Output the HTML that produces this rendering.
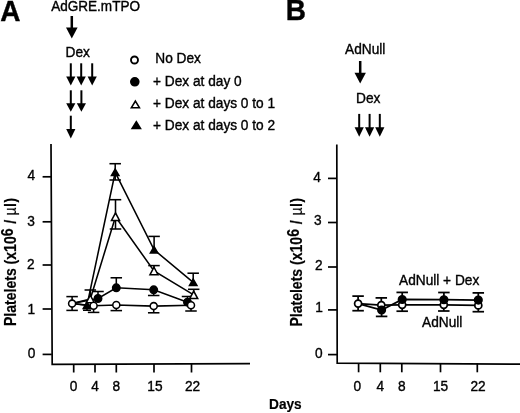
<!DOCTYPE html>
<html><head><meta charset="utf-8"><title>Figure</title>
<style>
html,body{margin:0;padding:0;background:#fff}
svg{display:block;will-change:transform;opacity:.999}
text{font-family:"Liberation Sans",Arial,Helvetica,sans-serif;fill:#000}
.b{font-weight:bold}
</style></head><body>
<svg width="520" height="413" viewBox="0 0 520 413">
<text class="b" transform="translate(0.3,20.9) scale(0.945,1)" font-size="29.6" stroke="#000" stroke-width="0.4">A</text>
<text class="b" transform="translate(285.8,20.1) scale(0.945,1)" font-size="29.6" stroke="#000" stroke-width="0.4">B</text>
<text transform="translate(51.2,11.0) scale(0.8929,1)" font-size="15.18" text-anchor="start" stroke="#000" stroke-width="0.4">AdGRE.mTPO</text>
<text transform="translate(65.6,57.3) scale(0.8929,1)" font-size="15.34" text-anchor="start" stroke="#000" stroke-width="0.4">Dex</text>
<text transform="translate(155.3,63.4) scale(0.8929,1)" font-size="15.34" text-anchor="start" stroke="#000" stroke-width="0.4">No Dex</text>
<text transform="translate(153,85.5) scale(0.8929,1)" font-size="15.34" text-anchor="start" stroke="#000" stroke-width="0.4">+ Dex at day 0</text>
<text transform="translate(153,107.7) scale(0.8929,1)" font-size="15.34" text-anchor="start" stroke="#000" stroke-width="0.4">+ Dex at days 0 to 1</text>
<text transform="translate(153,129.5) scale(0.8929,1)" font-size="15.34" text-anchor="start" stroke="#000" stroke-width="0.4">+ Dex at days 0 to 2</text>
<text transform="translate(345,53.8) scale(0.8929,1)" font-size="15.34" text-anchor="start" stroke="#000" stroke-width="0.4">AdNull</text>
<text transform="translate(356,103.4) scale(0.8929,1)" font-size="15.34" text-anchor="start" stroke="#000" stroke-width="0.4">Dex</text>
<text transform="translate(399,285.3) scale(0.8929,1)" font-size="15.34" text-anchor="start" stroke="#000" stroke-width="0.4">AdNull + Dex</text>
<text transform="translate(422,327) scale(0.8929,1)" font-size="15.34" text-anchor="start" stroke="#000" stroke-width="0.4">AdNull</text>
<text transform="translate(35.2,180.2) scale(0.8929,1)" font-size="15.34" text-anchor="end" stroke="#000" stroke-width="0.4">4</text>
<text transform="translate(34.9,225.9) scale(0.8929,1)" font-size="15.34" text-anchor="end" stroke="#000" stroke-width="0.4">3</text>
<text transform="translate(34.6,269.1) scale(0.8929,1)" font-size="15.34" text-anchor="end" stroke="#000" stroke-width="0.4">2</text>
<text transform="translate(35.2,313.5) scale(0.8929,1)" font-size="15.34" text-anchor="end" stroke="#000" stroke-width="0.4">1</text>
<text transform="translate(35.3,358.1) scale(0.8929,1)" font-size="15.34" text-anchor="end" stroke="#000" stroke-width="0.4">0</text>
<text transform="translate(320.8,182.1) scale(0.8929,1)" font-size="15.34" text-anchor="end" stroke="#000" stroke-width="0.4">4</text>
<text transform="translate(321.7,225.4) scale(0.8929,1)" font-size="15.34" text-anchor="end" stroke="#000" stroke-width="0.4">3</text>
<text transform="translate(322.5,269.5) scale(0.8929,1)" font-size="15.34" text-anchor="end" stroke="#000" stroke-width="0.4">2</text>
<text transform="translate(322.8,311.9) scale(0.8929,1)" font-size="15.34" text-anchor="end" stroke="#000" stroke-width="0.4">1</text>
<text transform="translate(322.6,358.3) scale(0.8929,1)" font-size="15.34" text-anchor="end" stroke="#000" stroke-width="0.4">0</text>
<text transform="translate(73.5,391.2) scale(0.8929,1)" font-size="15.34" text-anchor="middle" stroke="#000" stroke-width="0.4">0</text>
<text transform="translate(95,391.2) scale(0.8929,1)" font-size="15.34" text-anchor="middle" stroke="#000" stroke-width="0.4">4</text>
<text transform="translate(116.3,391.2) scale(0.8929,1)" font-size="15.34" text-anchor="middle" stroke="#000" stroke-width="0.4">8</text>
<text transform="translate(154.9,391.2) scale(0.8929,1)" font-size="15.34" text-anchor="middle" stroke="#000" stroke-width="0.4">15</text>
<text transform="translate(192.5,391.2) scale(0.8929,1)" font-size="15.34" text-anchor="middle" stroke="#000" stroke-width="0.4">22</text>
<text transform="translate(357.4,390.9) scale(0.8929,1)" font-size="15.34" text-anchor="middle" stroke="#000" stroke-width="0.4">0</text>
<text transform="translate(380.3,390.9) scale(0.8929,1)" font-size="15.34" text-anchor="middle" stroke="#000" stroke-width="0.4">4</text>
<text transform="translate(401.9,390.9) scale(0.8929,1)" font-size="15.34" text-anchor="middle" stroke="#000" stroke-width="0.4">8</text>
<text transform="translate(440.5,390.9) scale(0.8929,1)" font-size="15.34" text-anchor="middle" stroke="#000" stroke-width="0.4">15</text>
<text transform="translate(478,390.9) scale(0.8929,1)" font-size="15.34" text-anchor="middle" stroke="#000" stroke-width="0.4">22</text>
<text class="b" transform="translate(269,408.8) scale(0.8929,1)" font-size="15.34" text-anchor="start" stroke="#000" stroke-width="0.2">Days</text>
<text class="b" transform="translate(15.8,326.1) rotate(-90) scale(0.8929,1)" font-size="15.76" text-anchor="start" stroke="#000" stroke-width="0.2">Platelets (x10<tspan dy="-2.9">6</tspan><tspan dy="2.9" dx="0.8"> / </tspan><tspan font-weight="normal" dx="0.6">µ</tspan><tspan dx="0.5">l</tspan><tspan dx="0.5">)</tspan></text>
<text class="b" transform="translate(301.8,326.6) rotate(-90) scale(0.8929,1)" font-size="15.74" text-anchor="start" stroke="#000" stroke-width="0.2">Platelets (x10<tspan dy="-2.9">6</tspan><tspan dy="2.9" dx="1.0"> / </tspan><tspan font-weight="normal" dx="1.0">µ</tspan><tspan dx="0.5">l</tspan><tspan dx="0.5">)</tspan></text>
<g fill="#000">
<rect x="70.55" y="16.00" width="2.5" height="12.50"/><polygon points="66.00,27.50 77.60,27.50 71.80,38.60"/>
<rect x="69.80" y="63.30" width="2.0" height="14.30"/><polygon points="66.20,76.60 75.40,76.60 70.80,85.60"/>
<rect x="80.20" y="63.30" width="2.0" height="14.30"/><polygon points="76.60,76.60 85.80,76.60 81.20,85.60"/>
<rect x="91.20" y="63.30" width="2.0" height="14.30"/><polygon points="87.60,76.60 96.80,76.60 92.20,85.60"/>
<rect x="69.80" y="90.30" width="2.0" height="13.90"/><polygon points="66.20,103.20 75.40,103.20 70.80,111.80"/>
<rect x="80.40" y="90.30" width="2.0" height="13.90"/><polygon points="76.80,103.20 86.00,103.20 81.40,111.80"/>
<rect x="69.80" y="115.70" width="2.0" height="14.30"/><polygon points="66.20,129.00 75.40,129.00 70.80,138.40"/>
<rect x="358.95" y="61.00" width="2.5" height="12.70"/><polygon points="354.50,72.70 365.90,72.70 360.20,83.50"/>
<rect x="358.20" y="113.90" width="2.0" height="14.30"/><polygon points="354.60,127.20 363.80,127.20 359.20,136.70"/>
<rect x="368.60" y="113.90" width="2.0" height="14.30"/><polygon points="365.00,127.20 374.20,127.20 369.60,136.70"/>
<rect x="378.80" y="113.90" width="2.0" height="14.30"/><polygon points="375.20,127.20 384.40,127.20 379.80,136.70"/>
</g>
<g stroke="#000" stroke-width="1.7" fill="none" stroke-linecap="butt">
<polyline points="51,144 52.2,364.3 250,363.6"/>
<polyline points="336.8,144.4 337.2,363.2 520,364.2"/>
<line x1="42.6" y1="176.8" x2="51.8" y2="176.8"/>
<line x1="42.6" y1="221.8" x2="51.8" y2="221.8"/>
<line x1="42.6" y1="265.0" x2="51.8" y2="265.0"/>
<line x1="42.6" y1="309.0" x2="51.8" y2="309.0"/>
<line x1="42.6" y1="354.4" x2="51.8" y2="354.4"/>
<line x1="328" y1="178.4" x2="337" y2="178.4"/>
<line x1="328" y1="222.5" x2="337" y2="222.5"/>
<line x1="328" y1="267.0" x2="337" y2="267.0"/>
<line x1="328" y1="309.9" x2="337" y2="309.9"/>
<line x1="328" y1="354.6" x2="337" y2="354.6"/>
<line x1="73.7" y1="364" x2="73.7" y2="372.5"/>
<line x1="95" y1="364" x2="95" y2="372.5"/>
<line x1="116.3" y1="364" x2="116.3" y2="372.5"/>
<line x1="154" y1="364" x2="154" y2="372.5"/>
<line x1="191.5" y1="364" x2="191.5" y2="372.5"/>
<line x1="358.6" y1="363.3" x2="358.6" y2="372.3"/>
<line x1="380.3" y1="363.3" x2="380.3" y2="372.3"/>
<line x1="401.8" y1="363.3" x2="401.8" y2="372.3"/>
<line x1="440.5" y1="363.3" x2="440.5" y2="372.3"/>
<line x1="477.3" y1="363.3" x2="477.3" y2="372.3"/>
</g>
<g stroke="#000" stroke-width="1.55" fill="none">
<line x1="72.10" y1="296.60" x2="72.10" y2="310.40"/><line x1="66.35" y1="296.60" x2="77.85" y2="296.60"/><line x1="66.35" y1="310.40" x2="77.85" y2="310.40"/>
<line x1="93.60" y1="305.70" x2="93.60" y2="312.40"/><line x1="87.85" y1="312.40" x2="99.35" y2="312.40"/>
<line x1="116.30" y1="305.00" x2="116.30" y2="310.60"/><line x1="110.55" y1="310.60" x2="122.05" y2="310.60"/>
<line x1="153.70" y1="306.10" x2="153.70" y2="312.80"/><line x1="147.95" y1="312.80" x2="159.45" y2="312.80"/>
<line x1="191.00" y1="305.30" x2="191.00" y2="311.00"/><line x1="185.25" y1="311.00" x2="196.75" y2="311.00"/>
<line x1="98.00" y1="291.50" x2="98.00" y2="298.50"/><line x1="92.25" y1="291.50" x2="103.75" y2="291.50"/>
<line x1="116.30" y1="277.80" x2="116.30" y2="287.80"/><line x1="110.55" y1="277.80" x2="122.05" y2="277.80"/>
<line x1="153.70" y1="289.80" x2="153.70" y2="295.50"/><line x1="147.95" y1="295.50" x2="159.45" y2="295.50"/>
<line x1="187.50" y1="296.50" x2="187.50" y2="301.70"/><line x1="181.75" y1="296.50" x2="193.25" y2="296.50"/>
<line x1="90.30" y1="290.00" x2="90.30" y2="299.00"/><line x1="84.55" y1="290.00" x2="96.05" y2="290.00"/>
<line x1="115.50" y1="199.70" x2="115.50" y2="229.00"/><line x1="109.75" y1="199.70" x2="121.25" y2="199.70"/><line x1="109.75" y1="229.00" x2="121.25" y2="229.00"/>
<line x1="154.00" y1="265.60" x2="154.00" y2="271.00"/><line x1="148.25" y1="265.60" x2="159.75" y2="265.60"/>
<line x1="193.70" y1="289.30" x2="193.70" y2="295.30"/><line x1="187.95" y1="289.30" x2="199.45" y2="289.30"/>
<line x1="87.00" y1="305.30" x2="87.00" y2="310.20"/><line x1="83.00" y1="310.20" x2="91.00" y2="310.20"/>
<line x1="115.20" y1="163.70" x2="115.20" y2="180.00"/><line x1="109.45" y1="163.70" x2="120.95" y2="163.70"/><line x1="109.45" y1="180.00" x2="120.95" y2="180.00"/>
<line x1="154.10" y1="236.40" x2="154.10" y2="250.00"/><line x1="148.35" y1="236.40" x2="159.85" y2="236.40"/>
<line x1="193.20" y1="273.20" x2="193.20" y2="283.00"/><line x1="187.45" y1="273.20" x2="198.95" y2="273.20"/>
<polyline fill="none" points="72.10,303.60 93.60,305.70 116.30,305.00 153.70,306.10 191.00,305.30"/>
<polyline fill="none" points="72.10,303.60 98.00,298.50 116.30,287.80 153.70,289.80 187.50,302.20"/>
<polyline fill="none" points="72.10,303.60 90.30,299.00 115.50,216.70 154.00,271.00 193.70,294.80"/>
<polyline fill="none" points="72.10,303.60 87.00,305.30 115.20,172.30 154.10,249.80 193.20,282.30"/>
<polygon fill="#000" points="87.00,302.10 90.70,308.50 83.30,308.50"/>
<polygon fill="#000" points="115.20,169.10 118.90,175.50 111.50,175.50"/>
<polygon fill="#000" points="154.10,246.60 157.80,253.00 150.40,253.00"/>
<polygon fill="#000" points="193.20,279.10 196.90,285.50 189.50,285.50"/>
<polygon fill="#fff" points="90.30,295.25 94.30,302.75 86.30,302.75"/>
<polygon fill="#fff" points="115.50,212.95 119.50,220.45 111.50,220.45"/>
<polygon fill="#fff" points="154.00,267.25 158.00,274.75 150.00,274.75"/>
<polygon fill="#fff" points="193.70,291.05 197.70,298.55 189.70,298.55"/>
<circle cx="98.00" cy="298.50" r="3.7" fill="#000"/>
<circle cx="116.30" cy="287.80" r="3.7" fill="#000"/>
<circle cx="153.70" cy="289.80" r="3.7" fill="#000"/>
<circle cx="187.50" cy="302.20" r="3.7" fill="#000"/>
<circle cx="72.10" cy="303.60" r="3.5" fill="#fff"/>
<circle cx="93.60" cy="305.70" r="3.5" fill="#fff"/>
<circle cx="116.30" cy="305.00" r="3.5" fill="#fff"/>
<circle cx="153.70" cy="306.10" r="3.5" fill="#fff"/>
<circle cx="191.00" cy="305.30" r="3.5" fill="#fff"/>
</g>
<g stroke="#000" stroke-width="1.6">
<circle cx="134.5" cy="60" r="3.5" fill="#fff" stroke-width="1.9"/>
<circle cx="134.80" cy="81.80" r="4.0" fill="#000"/>
<polygon fill="#fff" points="135.40,101.10 139.40,107.70 131.40,107.70"/>
<polygon fill="#000" points="136.30,121.75 140.45,128.45 132.15,128.45"/>
</g>
<g stroke="#000" stroke-width="1.75" fill="none">
<line x1="358.10" y1="296.10" x2="358.10" y2="310.70"/><line x1="352.35" y1="296.10" x2="363.85" y2="296.10"/><line x1="352.35" y1="310.70" x2="363.85" y2="310.70"/>
<line x1="381.30" y1="297.90" x2="381.30" y2="305.10"/><line x1="375.55" y1="297.90" x2="387.05" y2="297.90"/>
<line x1="402.20" y1="304.80" x2="402.20" y2="311.20"/><line x1="396.45" y1="311.20" x2="407.95" y2="311.20"/>
<line x1="443.80" y1="304.80" x2="443.80" y2="311.00"/><line x1="438.05" y1="311.00" x2="449.55" y2="311.00"/>
<line x1="478.30" y1="305.40" x2="478.30" y2="311.70"/><line x1="472.55" y1="311.70" x2="484.05" y2="311.70"/>
<line x1="381.60" y1="310.00" x2="381.60" y2="316.40"/><line x1="375.85" y1="316.40" x2="387.35" y2="316.40"/>
<line x1="402.20" y1="292.40" x2="402.20" y2="299.50"/><line x1="396.45" y1="292.40" x2="407.95" y2="292.40"/>
<line x1="443.90" y1="292.50" x2="443.90" y2="299.70"/><line x1="438.15" y1="292.50" x2="449.65" y2="292.50"/>
<line x1="478.30" y1="292.90" x2="478.30" y2="300.10"/><line x1="472.55" y1="292.90" x2="484.05" y2="292.90"/>
<polyline fill="none" points="358.10,303.60 381.30,305.10 402.20,304.80 443.80,304.80 478.30,305.40"/>
<polyline fill="none" points="358.10,303.60 381.60,310.00 402.20,299.50 443.90,299.70 478.30,300.10"/>
<circle cx="381.30" cy="305.10" r="3.5" fill="#fff"/>
<circle cx="402.20" cy="304.80" r="3.5" fill="#fff"/>
<circle cx="443.80" cy="304.80" r="3.5" fill="#fff"/>
<circle cx="478.30" cy="305.40" r="3.5" fill="#fff"/>
<circle cx="381.60" cy="310.00" r="3.7" fill="#000"/>
<circle cx="402.20" cy="299.50" r="3.7" fill="#000"/>
<circle cx="443.90" cy="299.70" r="3.7" fill="#000"/>
<circle cx="478.30" cy="300.10" r="3.7" fill="#000"/>
<circle cx="358.10" cy="303.60" r="3.5" fill="#fff"/>
</g>
</svg></body></html>
